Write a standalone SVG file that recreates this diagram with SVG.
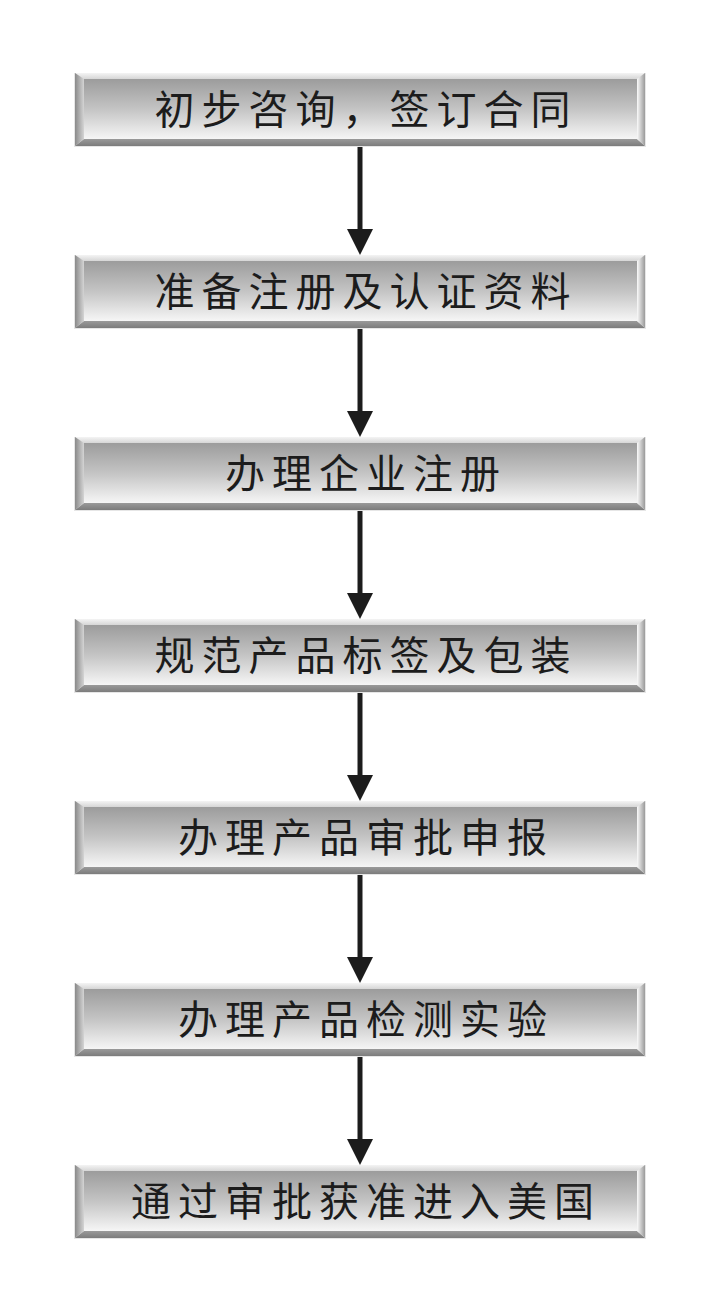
<svg xmlns="http://www.w3.org/2000/svg" xmlns:xlink="http://www.w3.org/1999/xlink" width="727" height="1313" viewBox="0 0 727 1313">
  <style>
    .lbl { font-family: "Noto Sans CJK SC", "Noto Sans", sans-serif; font-size: 40px; letter-spacing: 7px; fill: #1c1c1c; text-anchor: middle; }
    .conn { stroke: #1c1c1c; stroke-width: 5; fill: none; }
  </style>
  <defs>
    <linearGradient id="gFace" x1="0" y1="0" x2="0" y2="1">
      <stop offset="0" stop-color="#9c9c9c"/>
      <stop offset="0.5" stop-color="#c4c4c4"/>
      <stop offset="1" stop-color="#f6f6f6"/>
    </linearGradient>
    <linearGradient id="gTop" x1="0" y1="0" x2="0" y2="1">
      <stop offset="0" stop-color="#f4f4f4"/>
      <stop offset="1" stop-color="#d6d6d6"/>
    </linearGradient>
    <linearGradient id="gBot" x1="0" y1="0" x2="0" y2="1">
      <stop offset="0" stop-color="#9a9a9a"/>
      <stop offset="1" stop-color="#7c7c7c"/>
    </linearGradient>
    <linearGradient id="gLeft" x1="0" y1="0" x2="1" y2="0">
      <stop offset="0" stop-color="#8a8a8a"/>
      <stop offset="1" stop-color="#d4d4d4"/>
    </linearGradient>
    <linearGradient id="gRight" x1="0" y1="0" x2="1" y2="0">
      <stop offset="0" stop-color="#fafafa"/>
      <stop offset="1" stop-color="#9a9a9a"/>
    </linearGradient>
    <g id="box">
      <rect x="74" y="0" width="572" height="74" fill="#e6e6e6"/>
      <polygon points="75,0 645,0 637,6 84,6" fill="url(#gTop)"/>
      <polygon points="75,73 645,73 637,66 84,66" fill="url(#gBot)"/>
      <polygon points="75,0 84,6 84,66 75,73" fill="url(#gLeft)"/>
      <polygon points="645,0 637,6 637,66 645,73" fill="url(#gRight)"/>
      <rect x="84" y="6" width="553" height="60" fill="url(#gFace)"/>
    </g>
    <marker id="ah" markerUnits="userSpaceOnUse" markerWidth="28" markerHeight="28" refX="1" refY="13" orient="auto" viewBox="0 0 28 26">
      <path d="M0,0 L26,13 L0,26 z" fill="#1c1c1c"/>
    </marker>
  </defs>
  <rect width="727" height="1313" fill="#ffffff"/>

  <g id="connectors">
    <path class="conn" d="M360,146 V230" marker-end="url(#ah)"/>
    <path class="conn" d="M360,328 V412" marker-end="url(#ah)"/>
    <path class="conn" d="M360,510 V594" marker-end="url(#ah)"/>
    <path class="conn" d="M360,692 V776" marker-end="url(#ah)"/>
    <path class="conn" d="M360,874 V958" marker-end="url(#ah)"/>
    <path class="conn" d="M360,1056 V1140" marker-end="url(#ah)"/>
  </g>

  <g id="node1" transform="translate(0,73)">
    <use xlink:href="#box" href="#box"/>
    <text class="lbl" x="366" y="51">初步咨询，签订合同</text>
  </g>
  <g id="node2" transform="translate(0,255)">
    <use xlink:href="#box" href="#box"/>
    <text class="lbl" x="366" y="51">准备注册及认证资料</text>
  </g>
  <g id="node3" transform="translate(0,437)">
    <use xlink:href="#box" href="#box"/>
    <text class="lbl" x="366" y="51">办理企业注册</text>
  </g>
  <g id="node4" transform="translate(0,619)">
    <use xlink:href="#box" href="#box"/>
    <text class="lbl" x="366" y="51">规范产品标签及包装</text>
  </g>
  <g id="node5" transform="translate(0,801)">
    <use xlink:href="#box" href="#box"/>
    <text class="lbl" x="366" y="51">办理产品审批申报</text>
  </g>
  <g id="node6" transform="translate(0,983)">
    <use xlink:href="#box" href="#box"/>
    <text class="lbl" x="366" y="51">办理产品检测实验</text>
  </g>
  <g id="node7" transform="translate(0,1165)">
    <use xlink:href="#box" href="#box"/>
    <text class="lbl" x="366" y="51">通过审批获准进入美国</text>
  </g>
</svg>
